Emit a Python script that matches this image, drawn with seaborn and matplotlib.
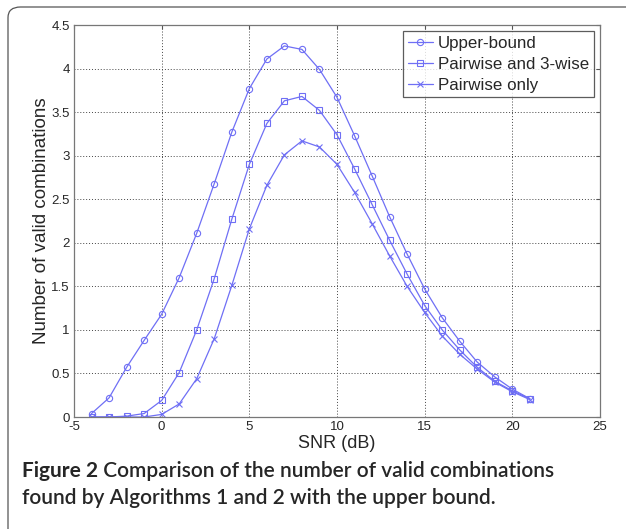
import numpy as np
import pandas as pd
import matplotlib
matplotlib.use('Agg')
import matplotlib.pyplot as plt
import seaborn as sns
from matplotlib.patches import FancyBboxPatch

# values
snr = list(range(-4, 22))
upper_bound = [0.04, 0.22, 0.57, 0.88, 1.18, 1.60, 2.11, 2.68, 3.27, 3.77, 4.11, 4.26, 4.22,
               3.99, 3.67, 3.23, 2.77, 2.30, 1.87, 1.47, 1.14, 0.87, 0.63, 0.46, 0.32, 0.21]
pair_3wise = [0.0, 0.0, 0.01, 0.04, 0.19, 0.51, 1.00, 1.59, 2.27, 2.90, 3.37, 3.63, 3.68,
              3.52, 3.24, 2.85, 2.44, 2.03, 1.64, 1.28, 1.00, 0.77, 0.57, 0.41, 0.30, 0.21]
pair_only = [0.0, 0.0, 0.0, 0.0, 0.03, 0.15, 0.44, 0.90, 1.51, 2.16, 2.66, 3.01, 3.17,
             3.10, 2.90, 2.58, 2.22, 1.85, 1.50, 1.20, 0.93, 0.72, 0.55, 0.40, 0.29, 0.20]
series_names = ['Upper-bound', 'Pairwise and 3-wise', 'Pairwise only']
markers = ['o', 's', 'x']

xticks = [-5, 0, 5, 10, 15, 20, 25]
yticks = [0, 0.5, 1, 1.5, 2, 2.5, 3, 3.5, 4, 4.5]

sns.set_style('white')
plt.rcParams['font.family'] = ['Liberation Sans', 'DejaVu Sans']

fig = plt.figure(figsize=(6.26, 5.29), dpi=100)
ax = fig.add_axes([74 / 626, 0.2117, 526 / 626, 0.741])

blue = '#6f6ff5'
for vals, name, m in zip([upper_bound, pair_3wise, pair_only], series_names, markers):
    sns.lineplot(x=snr, y=vals, ax=ax, color=blue, lw=0.9, marker=m, markersize=4.5,
                 markerfacecolor='none', markeredgecolor=blue, markeredgewidth=0.8,
                 label=name)

ax.set_xlim(-5, 25)
ax.set_ylim(0, 4.5)
ax.set_xticks(xticks)
ax.set_yticks(yticks)
ax.set_xticklabels([str(t) for t in xticks])
ax.set_yticklabels([f'{t:g}' for t in yticks])
ax.tick_params(direction='in', length=3, labelsize=9.5, top=True, right=True,
               color='#555555', pad=3)
ax.grid(True, linestyle=(0, (1, 2)), color='#444444', lw=0.7)
for s in ax.spines.values():
    s.set_color('#777777')
    s.set_linewidth(0.9)

ax.set_xlabel('SNR (dB)', fontsize=13, labelpad=1)
ax.set_ylabel('Number of valid combinations', fontsize=13.5, labelpad=1)

leg = ax.legend(loc='upper right', fontsize=12.2, frameon=True, fancybox=False,
                borderaxespad=0.35, handlelength=1.5, handletextpad=0.3,
                labelspacing=0.35, borderpad=0.28)
leg.get_frame().set_edgecolor('#333333')
leg.get_frame().set_linewidth(0.9)

# rounded frame around the figure
frame = FancyBboxPatch((8 / 626, -0.05), 1.2, 1.0 - 7 / 529 + 0.05,
                       boxstyle='round,pad=0,rounding_size=0.02',
                       transform=fig.transFigure, fill=False,
                       edgecolor='#555555', lw=0.9, clip_on=False)
fig.patches.append(frame)

# caption: bold lead-in followed by normal text on the same baseline
cap_x = 22 / 626
line1_y = 1 - 477 / 529
line2_y = 1 - 504 / 529
t1 = fig.text(cap_x, line1_y, 'Figure 2', fontsize=15, fontweight='bold',
              family='Lato', va='baseline')
fig.canvas.draw()
w = t1.get_window_extent(renderer=fig.canvas.get_renderer()).width / fig.bbox.width
fig.text(cap_x + w, line1_y, ' Comparison of the number of valid combinations',
         fontsize=15, fontweight='semibold', family='Lato', va='baseline')
fig.text(cap_x, line2_y, 'found by Algorithms 1 and 2 with the upper bound.',
         fontsize=15, fontweight='semibold', family='Lato', va='baseline')

fig.savefig('out.png', dpi=100)
